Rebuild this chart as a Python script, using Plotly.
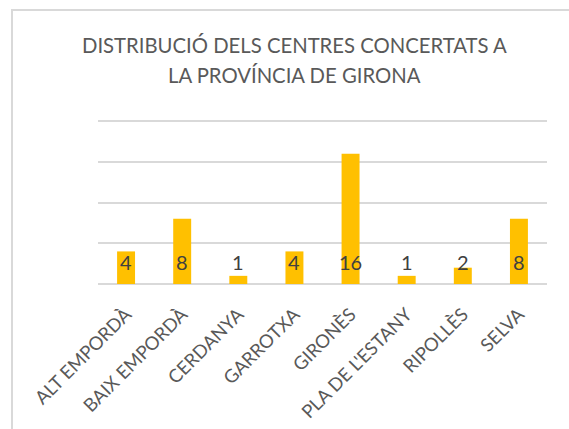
import plotly.graph_objects as go

categories = ["ALT EMPORDÀ", "BAIX EMPORDÀ", "CERDANYA", "GARROTXA", "GIRONÈS",
              "PLA DE L'ESTANY", "RIPOLLÈS", "SELVA"]
values = [4, 8, 1, 4, 16, 1, 2, 8]
title_lines = ["DISTRIBUCIÓ DELS CENTRES CONCERTATS A", "LA PROVÍNCIA DE GIRONA"]

W, H = 569, 429
ml, mr, mt, mb = 98, 22, 119, 145
pw, ph = W - ml - mr, H - mt - mb
ymax = 20.25

fig = go.Figure()
fig.add_trace(go.Bar(x=categories, y=values, marker=dict(color="#FFC000", line=dict(width=0)),
                     width=0.32, hoverinfo="skip"))

for c, v in zip(categories, values):
    fig.add_annotation(x=c, y=2.7, text=str(v), showarrow=False, yanchor="middle",
                       font=dict(family="Lato", size=20, color="#404040"))

for line, py in zip(title_lines, [45, 75]):
    fig.add_annotation(xref="paper", yref="paper", x=(294 - ml) / pw, y=(H - mb - py) / ph,
                       text=line, showarrow=False, xanchor="center", yanchor="middle",
                       font=dict(family="Lato", size=20.3, color="#595959"))

# chart border
fig.add_shape(type="rect", xref="paper", yref="paper",
              x0=(12 - ml) / pw, x1=(W + 10 - ml) / pw,
              y0=(H - mb - (H + 10)) / ph, y1=(H - mb - 10) / ph,
              line=dict(color="#D9D9D9", width=2), fillcolor="rgba(0,0,0,0)", layer="below")

fig.update_layout(
    width=W, height=H, margin=dict(l=ml, r=mr, t=mt, b=mb, autoexpand=False),
    paper_bgcolor="white", plot_bgcolor="white", showlegend=False,
    xaxis=dict(tickangle=-45, tickfont=dict(family="Lato", size=18.5, color="#595959"),
               showgrid=False, showline=False, ticks="", ticklen=0, automargin=False,
               ticklabelstandoff=15),
    yaxis=dict(range=[0, ymax], tickvals=[0, 5, 10, 15, 20], showgrid=True, gridcolor="#D9D9D9",
               gridwidth=1.5, showticklabels=False, zeroline=True, zerolinecolor="#D9D9D9",
               zerolinewidth=1.5, fixedrange=True, automargin=False),
    bargap=0.68,
)

fig.write_html("out.html", config={"displayModeBar": False},
               post_script="document.body.style.margin='0';")
